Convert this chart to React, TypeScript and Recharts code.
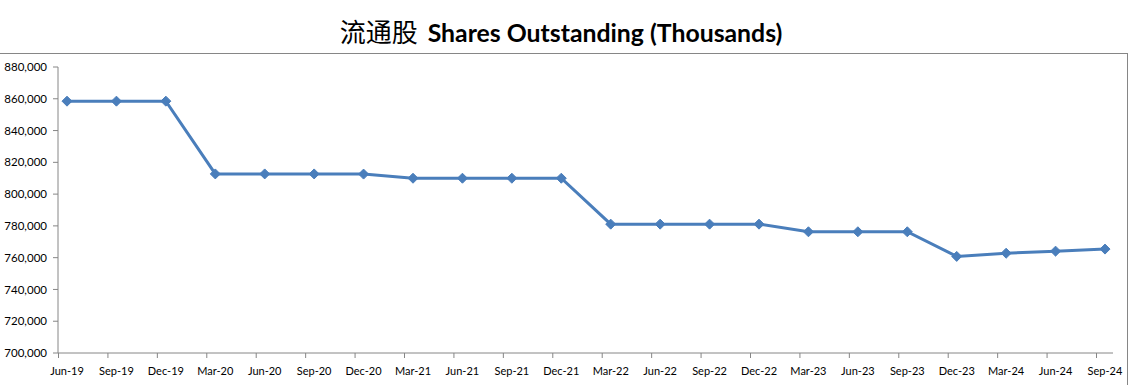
import { LineChart, Line, XAxis, YAxis } from 'recharts';

const quarters = [
    'Jun-19', 'Sep-19', 'Dec-19', 'Mar-20', 'Jun-20', 'Sep-20', 'Dec-20', 'Mar-21',
    'Jun-21', 'Sep-21', 'Dec-21', 'Mar-22', 'Jun-22', 'Sep-22', 'Dec-22', 'Mar-23',
    'Jun-23', 'Sep-23', 'Dec-23', 'Mar-24', 'Jun-24', 'Sep-24',
];

const sharesOutstanding = [
    858500, 858500, 858500, 812700, 812700, 812700, 812600, 810000,
    810000, 810000, 810000, 781100, 781100, 781100, 781100, 776300,
    776300, 776300, 760800, 762800, 764100, 765400,
];

const yTicks = [700000, 720000, 740000, 760000, 780000, 800000, 820000, 840000, 860000, 880000];

const data = quarters.map((q, i) => ({ name: q, shares: sharesOutstanding[i] }));

const FONT = 'Lato, "Liberation Sans", sans-serif';
const AXIS_GREY = '#868686';
const LINE_BLUE = '#4a7ebb';

const Diamond = (props: any) => {
    const { cx, cy } = props;
    if (cx == null || cy == null) return null;
    const r = 5;
    return (
        <polygon
            points={`${cx},${cy - r} ${cx + r},${cy} ${cx},${cy + r} ${cx - r},${cy}`}
            fill={LINE_BLUE}
            stroke={LINE_BLUE}
            strokeWidth={1}
        />
    );
};

// Excel date axis: tick marks sit a little left of the data points
const QuarterTick = (props: any) => {
    const { x, y, payload } = props;
    return (
        <g>
            <line x1={x - 8.5} x2={x - 8.5} y1={y} y2={y + 5} stroke={AXIS_GREY} />
            <text x={x} y={y + 22} textAnchor="middle" fontSize={11} fontFamily={FONT} fill="#000">
                {payload.value}
            </text>
        </g>
    );
};

export default function App() {
    return (
        <div style={{ position: 'absolute', left: 0, top: 0, width: 1129, height: 385, background: '#fff' }}>
            <div
                style={{
                    position: 'absolute',
                    left: 0,
                    top: 16,
                    width: 1122,
                    textAlign: 'center',
                    fontSize: 24.8,
                    lineHeight: '30px',
                    fontWeight: 'bold',
                    fontFamily: FONT,
                    color: '#000',
                    whiteSpace: 'nowrap',
                }}
            >
                <span
                    style={{
                        fontFamily: '"Noto Sans CJK SC", sans-serif',
                        fontWeight: 'normal',
                        fontSize: 26,
                        marginRight: 10,
                    }}
                >
                    流通股
                </span>
                Shares Outstanding (Thousands)
            </div>
            <div
                style={{
                    position: 'absolute',
                    left: 0,
                    top: 53,
                    width: 1127,
                    height: 340,
                    borderTop: `1px solid ${AXIS_GREY}`,
                    borderRight: `1px solid ${AXIS_GREY}`,
                }}
            />
            <div style={{ position: 'absolute', left: 0, top: 0 }}>
                <LineChart
                    width={1129}
                    height={385}
                    data={data}
                    margin={{ top: 67, right: 16, left: 0, bottom: 0 }}
                >
                    <XAxis
                        dataKey="name"
                        height={32}
                        interval={0}
                        padding={{ left: 9, right: 8 }}
                        axisLine={{ stroke: AXIS_GREY }}
                        tickLine={false}
                        tickSize={0}
                        tickMargin={0}
                        tick={<QuarterTick />}
                    />
                    <YAxis
                        width={58}
                        domain={[700000, 880000]}
                        ticks={yTicks}
                        interval={0}
                        axisLine={{ stroke: AXIS_GREY }}
                        tickLine={{ stroke: AXIS_GREY }}
                        tickSize={5}
                        tickMargin={6}
                        tick={{ fontSize: 11.5, fontFamily: FONT, fill: '#000' }}
                        tickFormatter={(v: number) => v.toLocaleString('en-US')}
                    />
                    <Line
                        type="linear"
                        dataKey="shares"
                        stroke={LINE_BLUE}
                        strokeWidth={3}
                        dot={<Diamond />}
                        activeDot={false}
                        isAnimationActive={false}
                    />
                </LineChart>
            </div>
        </div>
    );
}
